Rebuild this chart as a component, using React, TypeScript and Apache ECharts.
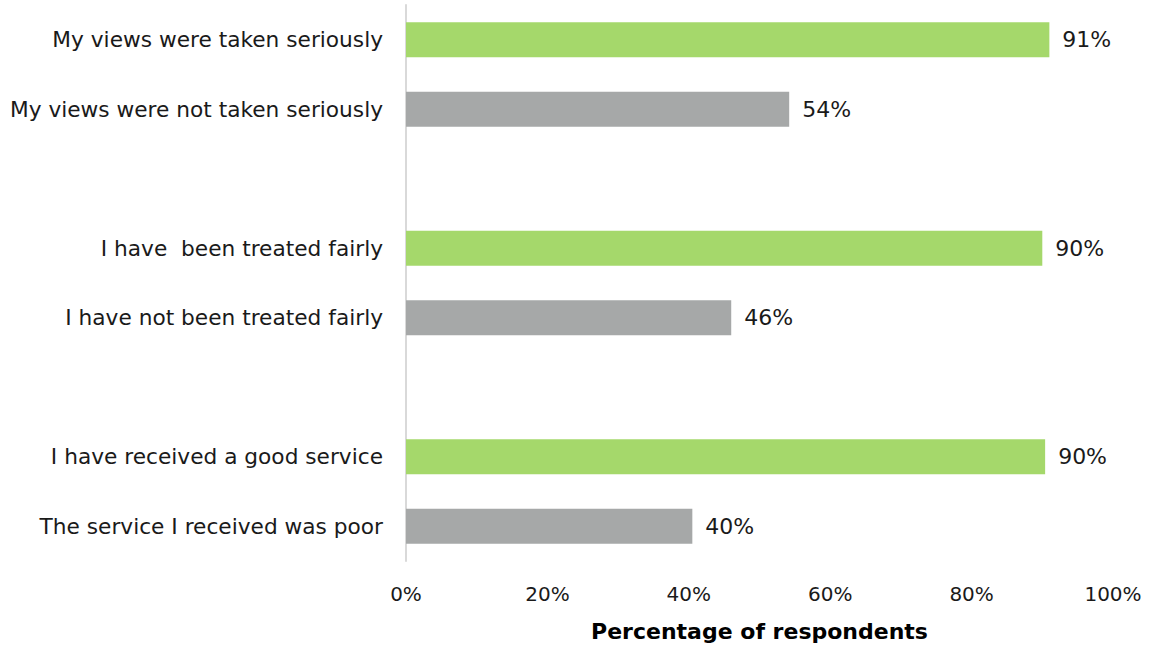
import React, { useEffect, useRef } from "react";
import * as echarts from "echarts";

const categories = [
  "My views were taken seriously",
  "My views were not taken seriously",
  "",
  "I have  been treated fairly",
  "I have not been treated fairly",
  "",
  "I have received a good service",
  "The service I received was poor",
];
const values: (number | null)[] = [91, 54.2, null, 90, 46, null, 90.4, 40.5];
const valueLabels = ["91%", "54%", "", "90%", "46%", "", "90%", "40%"];
const kinds = ["good", "poor", "", "good", "poor", "", "good", "poor"];
const xTicks = [0, 20, 40, 60, 80, 100];
const axisTitle = "Percentage of respondents";

const GREEN = "#a5d86b";
const GREY = "#a6a8a8";
const FONT = "DejaVu Sans";

export default function App() {
  const ref = useRef<HTMLDivElement>(null);
  useEffect(() => {
    if (!ref.current) return;
    const chart = echarts.init(ref.current, undefined, { renderer: "svg" });
    chart.setOption({
      animation: false,
      grid: { left: 406, right: 45, top: 5, bottom: 87 },
      xAxis: {
        type: "value",
        min: xTicks[0],
        max: xTicks[xTicks.length - 1],
        interval: 20,
        axisLine: { show: false },
        axisTick: { show: false },
        splitLine: { show: false },
        axisLabel: {
          formatter: (v: number) => v + "%",
          fontFamily: FONT,
          fontSize: 20,
          color: "#1a1a1a",
          margin: 23,
        },
        name: axisTitle,
        nameLocation: "middle",
        nameGap: 59,
        nameTextStyle: {
          fontFamily: FONT,
          fontSize: 22,
          fontWeight: "bold",
          color: "#000",
        },
      },
      yAxis: {
        type: "category",
        data: categories,
        inverse: true,
        axisLine: { show: true, lineStyle: { color: "#d9d9d9", width: 2 } },
        axisTick: { show: false },
        axisLabel: {
          fontFamily: FONT,
          fontSize: 21.7,
          color: "#1a1a1a",
          margin: 23,
        },
      },
      series: [
        {
          type: "bar",
          barWidth: 35,
          data: values.map((v, i) => ({
            value: v,
            itemStyle: { color: kinds[i] === "good" ? GREEN : GREY },
          })),
          label: {
            show: true,
            position: "right",
            distance: 13,
            fontFamily: FONT,
            fontSize: 22,
            color: "#1a1a1a",
            formatter: (p: any) => valueLabels[p.dataIndex],
          },
        },
      ],
    });
    return () => chart.dispose();
  }, []);
  return <div ref={ref} style={{ width: 1158, height: 648, position: "absolute", left: 0, top: 0 }} />;
}
